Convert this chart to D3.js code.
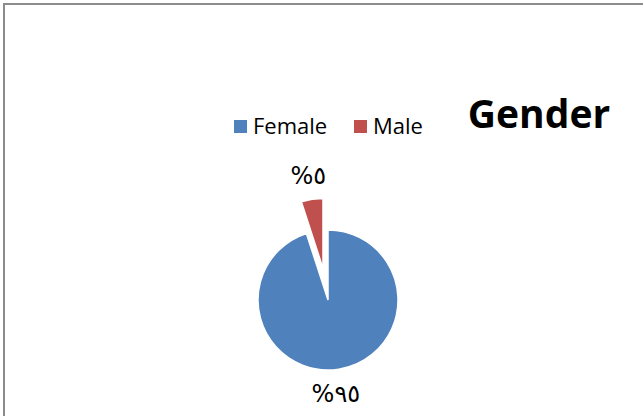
<!DOCTYPE html>
<html>
<head>
<meta charset="utf-8">
<script src="https://cdn.jsdelivr.net/npm/d3@7"></script>
<style>
  body { margin: 0; background: #fff; }
  svg { display: block; font-family: "Open Sans", "DejaVu Sans", sans-serif; }
</style>
</head>
<body>
<div id="chart"></div>
<script>
// data
const categories = ["Female", "Male"];
const values = [95, 5];
const labels = ["%\u0669\u0665", "%\u0665"];
const colors = ["#4F81BD", "#C0504D"];
const title = "Gender";

const width = 643, height = 416;

const svg = d3.select("#chart")
  .append("svg")
  .attr("width", width)
  .attr("height", height);

// chart frame (right and bottom edges cut off)
svg.append("rect")
  .attr("x", 4).attr("y", 4)
  .attr("width", width + 10).attr("height", height + 10)
  .attr("fill", "#fff")
  .attr("stroke", "#8c8c8c")
  .attr("stroke-width", 2);

// title
svg.append("text")
  .attr("x", 539).attr("y", 128)
  .attr("text-anchor", "middle")
  .attr("font-size", "39px")
  .attr("font-weight", "bold")
  .attr("fill", "#000")
  .text(title);

// legend
const legend = svg.append("g").attr("transform", "translate(234,120)");
const legendX = [0, 120];
categories.forEach((c, i) => {
  const g = legend.append("g").attr("transform", `translate(${legendX[i]},0)`);
  g.append("rect")
    .attr("width", 13).attr("height", 13)
    .attr("fill", colors[i]);
  g.append("text")
    .attr("x", 19).attr("y", 14)
    .attr("font-size", "22px")
    .attr("fill", "#000")
    .text(c);
});

// pie
const cx = 328, cy = 300, r = 70, explode = 32;
const pie = d3.pie().sort(null).value(d => d);
const arcs = pie(values);
const arc = d3.arc().innerRadius(0).outerRadius(r);

const g = svg.append("g").attr("transform", `translate(${cx},${cy})`);

arcs.forEach((a, i) => {
  const mid = (a.startAngle + a.endAngle) / 2;
  const off = i === 1 ? explode : 0;
  const dx = Math.sin(mid) * off, dy = -Math.cos(mid) * off;
  g.append("path")
    .attr("d", arc(a))
    .attr("transform", `translate(${dx},${dy})`)
    .attr("fill", colors[i])
    .attr("stroke", "#fff")
    .attr("stroke-width", 1.5);

  const lr = i === 1 ? r + explode + 24 : r + 25;
  g.append("text")
    .attr("x", Math.sin(mid) * lr)
    .attr("y", -Math.cos(mid) * lr)
    .attr("dx", i === 0 ? -7 : 0)
    .attr("dy", "0.35em")
    .attr("text-anchor", "middle")
    .attr("direction", "ltr")
    .attr("font-family", "'DejaVu Sans', sans-serif")
    .attr("font-size", "24px")
    .attr("fill", "#000")
    .text(labels[i]);
});
</script>
</body>
</html>
